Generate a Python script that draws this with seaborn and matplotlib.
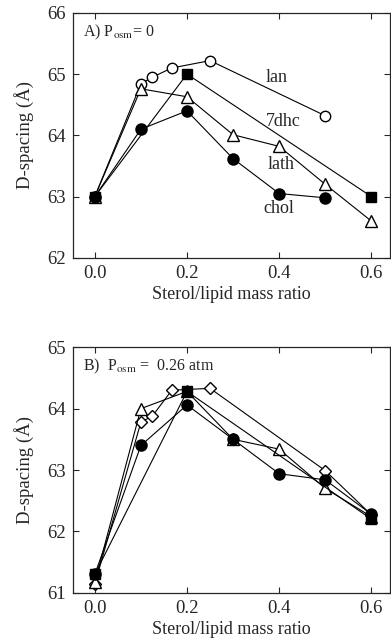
import matplotlib
matplotlib.use('Agg')
import matplotlib.pyplot as plt
import seaborn as sns

# Panel A: P_osm = 0
a_lan_x = [0.0, 0.1, 0.125, 0.167, 0.25, 0.5]
a_lan_y = [63.0, 64.84, 64.95, 65.1, 65.22, 64.32]
a_7dhc_x = [0.0, 0.2, 0.6]
a_7dhc_y = [63.0, 65.0, 63.0]
a_lath_x = [0.0, 0.1, 0.2, 0.3, 0.4, 0.5, 0.6]
a_lath_y = [63.0, 64.76, 64.63, 64.01, 63.82, 63.2, 62.6]
a_chol_x = [0.0, 0.1, 0.2, 0.3, 0.4, 0.5]
a_chol_y = [63.0, 64.1, 64.4, 63.62, 63.05, 62.98]

# Panel B: P_osm = 0.26 atm
b_lan_x = [0.0, 0.1, 0.125, 0.167, 0.25, 0.5, 0.6]
b_lan_y = [61.14, 63.78, 63.88, 64.3, 64.33, 62.99, 62.27]
b_7dhc_x = [0.0, 0.2, 0.6]
b_7dhc_y = [61.3, 64.28, 62.2]
b_lath_x = [0.0, 0.1, 0.2, 0.3, 0.4, 0.5, 0.6]
b_lath_y = [61.17, 64.0, 64.28, 63.5, 63.34, 62.7, 62.24]
b_chol_x = [0.0, 0.1, 0.2, 0.3, 0.4, 0.5, 0.6]
b_chol_y = [61.3, 63.4, 64.06, 63.5, 62.94, 62.84, 62.28]

labels_a = ['lan', '7dhc', 'lath', 'chol']
label_pos_x = [0.395, 0.41, 0.405, 0.4]
label_pos_y = [64.94, 64.23, 63.52, 62.8]

sns.set_style('ticks')
plt.rcParams['font.family'] = ['Liberation Serif', 'DejaVu Serif']
plt.rcParams['mathtext.fontset'] = 'stix'

fig = plt.figure(figsize=(3.91, 6.43), dpi=100)
ax1 = fig.add_axes([0.187, 0.599, 0.81, 0.381])
ax2 = fig.add_axes([0.187, 0.078, 0.81, 0.382])


def draw(ax, x, y, marker, face, ms):
    sns.lineplot(x=x, y=y, ax=ax, color='black', lw=0.8, marker=marker,
                 markersize=ms, markerfacecolor=face, markeredgecolor='black',
                 markeredgewidth=1.0, sort=False)


draw(ax1, a_lan_x, a_lan_y, 'o', 'white', 7.5)
draw(ax1, a_7dhc_x, a_7dhc_y, 's', 'black', 6.5)
draw(ax1, a_lath_x, a_lath_y, '^', 'white', 8)
draw(ax1, a_chol_x, a_chol_y, 'o', 'black', 8)

draw(ax2, b_lan_x, b_lan_y, 'D', 'white', 6.5)
draw(ax2, b_lath_x, b_lath_y, '^', 'white', 8)
draw(ax2, b_chol_x, b_chol_y, 'o', 'black', 8)
draw(ax2, b_7dhc_x, b_7dhc_y, 's', 'black', 6.5)

for lab, lx, ly in zip(labels_a, label_pos_x, label_pos_y):
    ax1.text(lx, ly, lab, fontsize=13, ha='center', va='center')

ax1.text(0.03, 0.92, r'A) P$_{\mathrm{osm}}$= 0', transform=ax1.transAxes,
         fontsize=11.5, va='center')
ax2.text(0.03, 0.92, r'B)  P$_{\mathrm{osm}}$ =  0.26 atm', transform=ax2.transAxes,
         fontsize=11.5, va='center')

for ax, ylim in [(ax1, (62, 66)), (ax2, (61, 65))]:
    ax.set_xlim(-0.047, 0.64)
    ax.set_ylim(*ylim)
    ax.set_xticks([0.0, 0.2, 0.4, 0.6])
    ax.set_xticklabels(['0.0', '0.2', '0.4', '0.6'])
    ax.set_yticks(range(ylim[0], ylim[1] + 1))
    ax.tick_params(direction='in', top=True, right=True, length=4, width=0.8,
                   labelsize=13.5, pad=5)
    for s in ax.spines.values():
        s.set_linewidth(0.9)
        s.set_visible(True)
    ax.set_xlabel('Sterol/lipid mass ratio', fontsize=13, labelpad=3)
    ax.set_ylabel('D-spacing (Å)', fontsize=13.5, labelpad=10)

fig.savefig('out.png', dpi=100)
